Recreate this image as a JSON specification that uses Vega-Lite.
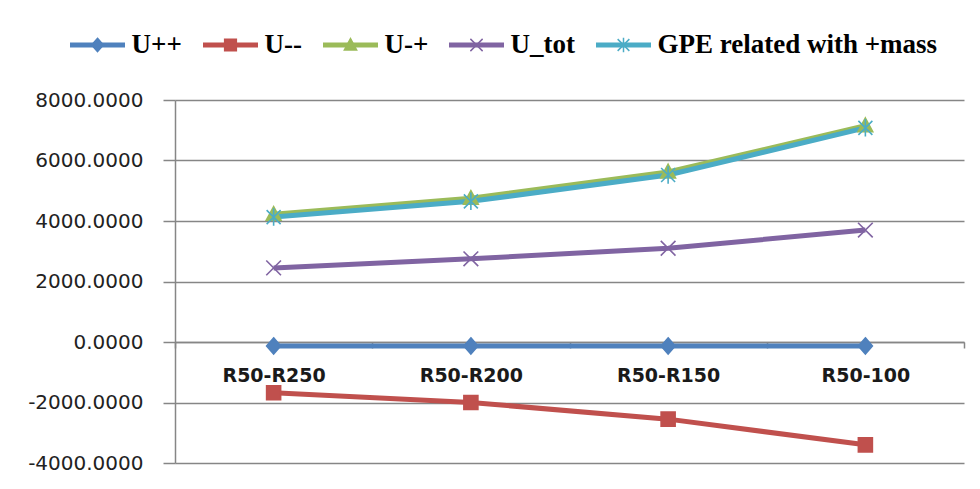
{
  "$schema": "https://vega.github.io/schema/vega-lite/v6.json",
  "width": 789,
  "height": 363,
  "autosize": "none",
  "padding": {"left": 175, "top": 100, "right": 16, "bottom": 26},
  "background": "white",
  "config": {"view": {"stroke": null}, "font": "DejaVu Sans"},
  "data": {
    "values": [
      {"cat": "R50-R250", "series": "U++", "v": -130},
      {"cat": "R50-R200", "series": "U++", "v": -130},
      {"cat": "R50-R150", "series": "U++", "v": -130},
      {"cat": "R50-100", "series": "U++", "v": -130},
      {"cat": "R50-R250", "series": "U--", "v": -1680},
      {"cat": "R50-R200", "series": "U--", "v": -2000},
      {"cat": "R50-R150", "series": "U--", "v": -2550},
      {"cat": "R50-100", "series": "U--", "v": -3400},
      {"cat": "R50-R250", "series": "U-+", "v": 4220},
      {"cat": "R50-R200", "series": "U-+", "v": 4750},
      {"cat": "R50-R150", "series": "U-+", "v": 5620},
      {"cat": "R50-100", "series": "U-+", "v": 7150},
      {"cat": "R50-R250", "series": "U_tot", "v": 2450},
      {"cat": "R50-R200", "series": "U_tot", "v": 2750},
      {"cat": "R50-R150", "series": "U_tot", "v": 3100},
      {"cat": "R50-100", "series": "U_tot", "v": 3700},
      {"cat": "R50-R250", "series": "GPE related with +mass", "v": 4130},
      {"cat": "R50-R200", "series": "GPE related with +mass", "v": 4650},
      {"cat": "R50-R150", "series": "GPE related with +mass", "v": 5520},
      {"cat": "R50-100", "series": "GPE related with +mass", "v": 7080}
    ]
  },
  "encoding": {
    "x": {
      "field": "cat",
      "type": "nominal",
      "sort": null,
      "scale": {"type": "band", "paddingInner": 0, "paddingOuter": 0},
      "axis": {
        "title": null,
        "orient": "bottom",
        "offset": -121,
        "labelAngle": 0,
        "labelFont": "DejaVu Sans",
        "labelFontWeight": "bold",
        "labelFontSize": 19,
        "labelColor": "#1a1a1a",
        "labelPadding": 18,
        "domainColor": "#868686",
        "domainWidth": 1.5,
        "tickColor": "#868686",
        "tickWidth": 1.5,
        "tickSize": 6,
        "tickBand": "extent",
        "grid": false
      }
    },
    "y": {
      "field": "v",
      "type": "quantitative",
      "scale": {"domain": [-4000, 8000], "nice": false, "zero": false},
      "axis": {
        "title": null,
        "values": [-4000, -2000, 0, 2000, 4000, 6000, 8000],
        "format": ".4f",
        "labelExpr": "replace(datum.label, '\u2212', '-')",
        "labelFont": "DejaVu Sans",
        "labelFontSize": 20,
        "labelColor": "#222222",
        "labelPadding": 20,
        "grid": true,
        "gridColor": "#868686",
        "gridWidth": 1.5,
        "domainColor": "#868686",
        "domainWidth": 1.5,
        "tickColor": "#868686",
        "tickWidth": 1.5,
        "tickSize": 12
      }
    }
  },
  "layer": [
    {
      "mark": {"type": "line", "strokeWidth": 5},
      "encoding": {
        "color": {
          "field": "series",
          "type": "nominal",
          "scale": {
            "domain": ["U++", "U--", "U-+", "U_tot", "GPE related with +mass"],
            "range": ["#4F81BD", "#C0504D", "#9BBB59", "#8064A2", "#4BACC6"]
          },
          "legend": {
            "title": null,
            "orient": "none",
            "legendX": -107.5,
            "legendY": -70,
            "direction": "horizontal",
            "columns": 5,
            "padding": 0,
            "symbolType": "stroke",
            "symbolSize": 3025,
            "symbolStrokeWidth": 5,
            "labelFont": "Liberation Serif",
            "labelFontWeight": "bold",
            "labelFontSize": 27,
            "labelColor": "#000000",
            "labelLimit": 400,
            "labelOffset": 4,
            "columnPadding": 18,
            "clipHeight": 30
          }
        }
      }
    },
    {
      "mark": {"type": "point", "filled": true, "size": 4900, "strokeWidth": 1.6, "opacity": 1},
      "encoding": {
        "color": {"field": "series", "type": "nominal", "legend": null},
        "stroke": {
          "field": "series",
          "type": "nominal",
          "scale": {
            "domain": ["U++", "U--", "U-+", "U_tot", "GPE related with +mass"],
            "range": ["#4F81BD", "#C0504D", "#9BBB59", "#8064A2", "#4BACC6"]
          },
          "legend": null
        },
        "shape": {
          "field": "series",
          "type": "nominal",
          "sort": null,
          "scale": {
            "range": [
              "M0,-0.23L0.2,0L0,0.23L-0.2,0Z",
              "M-0.2,-0.2H0.2V0.2H-0.2Z",
              "M0,-0.22L0.21,0.17H-0.21Z",
              "M-0.21,-0.21L0.21,0.21M-0.21,0.21L0.21,-0.21",
              "M-0.2,-0.2L0.2,0.2M-0.2,0.2L0.2,-0.2M0,-0.25V0.25"
            ]
          },
          "legend": {
            "title": null,
            "orient": "none",
            "legendX": -107.5,
            "legendY": -70,
            "direction": "horizontal",
            "columns": 5,
            "padding": 0,
            "symbolSize": 3422,
            "symbolStrokeWidth": 1.5,
            "labelFont": "Liberation Serif",
            "labelFontWeight": "bold",
            "labelFontSize": 27,
            "labelOpacity": 0,
            "labelLimit": 400,
            "labelOffset": 4,
            "columnPadding": 18,
            "clipHeight": 30,
            "encoding": {
              "symbols": {
                "fill": {"value": {"expr": "scale('color', datum.value)"}},
                "stroke": {"value": {"expr": "scale('color', datum.value)"}}
              }
            }
          }
        }
      }
    }
  ]
}
